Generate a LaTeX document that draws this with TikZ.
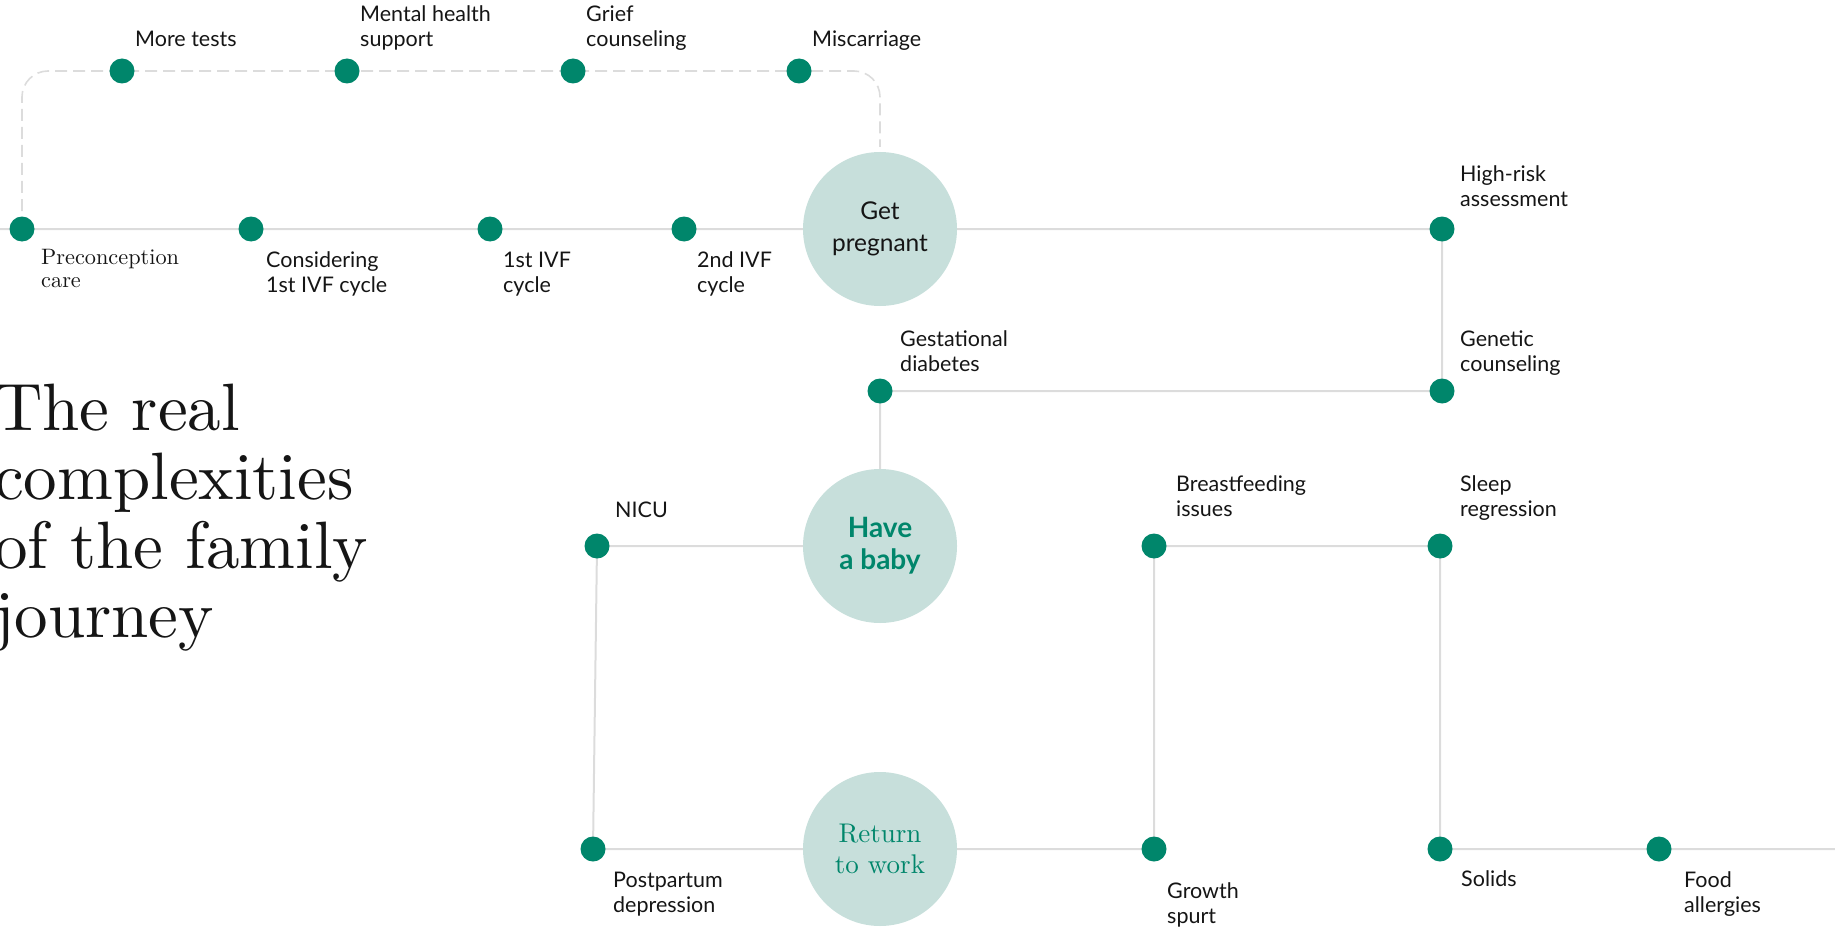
\documentclass[tikz,border=0pt]{standalone}
\usepackage{fontspec}
\newfontfamily\lato{Lato}
\newfontfamily\headfont{lmroman10-regular}[Extension=.otf]
\usetikzlibrary{backgrounds}
\definecolor{dotgreen}{HTML}{00866B}
\definecolor{bubble}{HTML}{C7DFDB}
\definecolor{track}{HTML}{DCDCDC}
\definecolor{ink}{HTML}{151515}

\begin{document}
\begin{tikzpicture}[x=1pt, y=-1pt,
  dot/.style={circle, fill=dotgreen, minimum size=25pt, inner sep=0pt},
  stage/.style={circle, fill=bubble, minimum size=154pt, inner sep=0pt, align=center,
    text=ink, font=\lato\fontsize{24.5}{32}\selectfont},
  lbl/.style={anchor=base west, align=left, inner sep=0pt, text=ink,
    font=\lato\fontsize{21.5}{25}\selectfont},
  trackline/.style={draw=track, line width=2pt},
  dashline/.style={draw=track, line width=1.6pt, dash pattern=on 12pt off 6pt,
    rounded corners=26pt}]
    \useasboundingbox (0,0) rectangle (1835,928);

    \node [anchor=base west, align=left, inner sep=0pt, text=ink,
      font=\headfont\fontsize{67}{68.7}\selectfont] (title) at (-6,637)
      {The real\\complexities\\of the family\\journey};

    \node [stage] (preg) at (880,229) {Get\\pregnant};
    \node [stage, text=dotgreen, font=\lato\bfseries\fontsize{28}{32}\selectfont] (baby) at (880,546) {Have\\a baby};
    \node [stage, text=dotgreen, font=\headfont\fontsize{27}{31}\selectfont] (work) at (880,849) {Return\\to work};

    \node [dot] (tests) at (122,71) {};
    \node [dot] (mental) at (347,71) {};
    \node [dot] (grief) at (573,71) {};
    \node [dot] (misc) at (799,71) {};
    \node [dot] (pre) at (22,229) {};
    \node [dot] (cons) at (251,229) {};
    \node [dot] (ivf1) at (490,229) {};
    \node [dot] (ivf2) at (684,229) {};
    \node [dot] (risk) at (1442,229) {};
    \node [dot] (genet) at (1442,391) {};
    \node [dot] (gest) at (880,391) {};
    \node [dot] (nicu) at (597,546) {};
    \node [dot] (breast) at (1154,546) {};
    \node [dot] (sleep) at (1440,546) {};
    \node [dot] (post) at (593,849) {};
    \node [dot] (growth) at (1154,849) {};
    \node [dot] (solids) at (1440,849) {};
    \node [dot] (food) at (1659,849) {};
    \coordinate (lstart) at (0,229);
    \coordinate (rend) at (1835,849);
    \coordinate (dashend) at (880,147);

    \node [lbl] (tests-l) at (135,47) {More tests};
    \node [lbl] (mental-l) at (360,47) {Mental health\\support};
    \node [lbl] (grief-l) at (586,47) {Grief\\counseling};
    \node [lbl] (misc-l) at (812,47) {Miscarriage};
    \node [lbl, font=\headfont\fontsize{22.3}{23}\selectfont] (pre-l) at (41,287) {Preconception\\care};
    \node [lbl] (cons-l) at (266,292) {Considering\\1st IVF cycle};
    \node [lbl] (ivf1-l) at (503,292) {1st IVF\\cycle};
    \node [lbl] (ivf2-l) at (697,292) {2nd IVF\\cycle};
    \node [lbl] (risk-l) at (1460,207) {High-risk\\assessment};
    \node [lbl] (genet-l) at (1460,371) {Genetic\\counseling};
    \node [lbl] (gest-l) at (900,371) {Gestational\\diabetes};
    \node [lbl] (nicu-l) at (615,517) {NICU};
    \node [lbl] (breast-l) at (1176,516) {Breastfeeding\\issues};
    \node [lbl] (sleep-l) at (1460,516) {Sleep\\regression};
    \node [lbl] (post-l) at (613,912) {Postpartum\\depression};
    \node [lbl] (growth-l) at (1167,923) {Growth\\spurt};
    \node [lbl] (solids-l) at (1461,886) {Solids};
    \node [lbl] (food-l) at (1684,912) {Food\\allergies};

    \begin{scope}[on background layer]
        \draw [dashline] (pre.center) |- (misc.center) -| (dashend);
        \draw [trackline] (lstart) -- (pre.center) -- (cons.center) -- (ivf1.center)
          -- (ivf2.center) -- (preg.center) -- (risk.center) -- (genet.center)
          -- (gest.center) -- (baby.center) -- (nicu.center) -- (post.center)
          -- (work.center) -- (growth.center) -- (breast.center) -- (sleep.center)
          -- (solids.center) -- (food.center) -- (rend);
    \end{scope}
\end{tikzpicture}
\end{document}
